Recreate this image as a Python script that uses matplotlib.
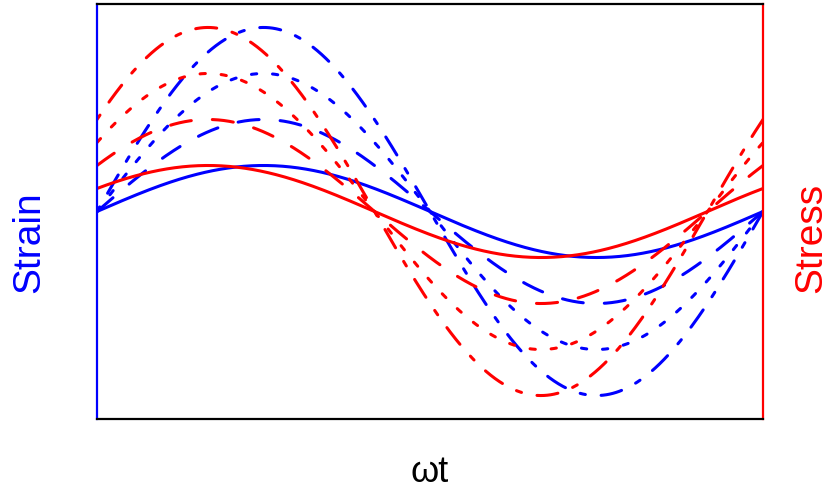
import numpy as np
import matplotlib
matplotlib.use("Agg")
import matplotlib.pyplot as plt

# ---- data ----
amplitudes = [1, 2, 3, 4]                 # relative amplitudes of each curve pair
phase_shift = np.pi / 6                   # stress leads strain by 30 degrees
x_label = "ωt"
left_label = "Strain"
right_label = "Stress"

plt.rcParams['font.family'] = ['Liberation Sans', 'DejaVu Sans']
plt.rcParams['lines.scale_dashes'] = False

W, H = 830, 493
fig = plt.figure(figsize=(W / 100, H / 100), dpi=100)
ax = fig.add_axes([97 / W, 1 - 419 / H, (763 - 97) / W, (419 - 4) / H])

u = 3.8  # dash unit in points
styles = [
    '-',
    (0, (4 * u, 4 * u)),
    (0, (1 * u, 3 * u)),
    (0, (1 * u, 3 * u, 4 * u, 3 * u)),
]
lw = 2.2

t = np.linspace(0, 2 * np.pi, 600)
for a, ls in zip(amplitudes, styles):
    ax.plot(t, a * np.sin(t), color='#0000FF', lw=lw, linestyle=ls,
            dash_capstyle='round', solid_capstyle='round')
for a, ls in zip(amplitudes, styles):
    ax.plot(t, a * np.sin(t + phase_shift), color='#FF0000', lw=lw, linestyle=ls,
            dash_capstyle='round', solid_capstyle='round')

ax.set_xlim(0, 2 * np.pi)
ax.set_ylim(-4.51, 4.51)
ax.set_xticks([])
ax.set_yticks([])
for s in ['top', 'bottom']:
    ax.spines[s].set_color('black')
    ax.spines[s].set_linewidth(1.6)
ax.spines['left'].set_color('#0000FF')
ax.spines['left'].set_linewidth(1.6)
ax.spines['right'].set_color('#FF0000')
ax.spines['right'].set_linewidth(1.6)

fig.text(29 / W, 1 - 293 / H, left_label, color='#0000FF', fontsize=28,
         rotation=90, ha='center', va='bottom')
fig.text(811 / W, 1 - 293 / H, right_label, color='#FF0000', fontsize=28,
         rotation=90, ha='center', va='bottom')
fig.text(430 / W, 1 - 482 / H, x_label, color='black', fontsize=26,
         ha='center', va='baseline')

fig.savefig('out.png', dpi=100)
